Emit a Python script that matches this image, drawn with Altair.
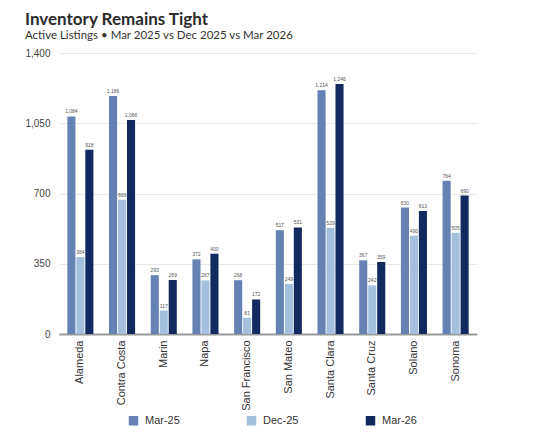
import altair as alt
import pandas as pd

counties = ["Alameda", "Contra Costa", "Marin", "Napa", "San Francisco",
            "San Mateo", "Santa Clara", "Santa Cruz", "Solano", "Sonoma"]
series = ["Mar-25", "Dec-25", "Mar-26"]
mar25 = [1084, 1186, 293, 372, 268, 517, 1214, 367, 630, 764]
dec25 = [384, 669, 117, 267, 81, 249, 529, 242, 490, 505]
mar26 = [918, 1066, 269, 400, 172, 531, 1246, 359, 613, 690]
colors = ["#6682b5", "#a5bfdf", "#132a60"]
y_ticks = [0, 350, 700, 1050, 1400]

rows = []
for i, c in enumerate(counties):
    for s, vals in zip(series, [mar25, dec25, mar26]):
        rows.append({"County": c, "Period": s, "Listings": vals[i]})
df = pd.DataFrame(rows)

FONT = "Liberation Sans"

base = alt.Chart(df).encode(
    x=alt.X("County:N", sort=counties,
            scale=alt.Scale(paddingInner=0.375, paddingOuter=0.2),
            axis=alt.Axis(title=None, labelAngle=270, labelFontSize=11,
                          labelColor="#333333", labelFont=FONT,
                          labelPadding=6, ticks=False, domainColor="#9a9a9a",
                          domainWidth=2, labelBaseline="middle", labelAlign="right")),
    xOffset=alt.XOffset("Period:N", sort=series,
                        scale=alt.Scale(paddingInner=0.1, paddingOuter=0)),
)

bars = base.mark_bar().encode(
    y=alt.Y("Listings:Q", scale=alt.Scale(domain=[0, 1400]),
            axis=alt.Axis(title=None, values=y_ticks,
                          labelExpr="format(datum.value, ',')",
                          labelFontSize=10, labelColor="#444444",
                          labelFont=FONT, labelPadding=9, ticks=False, domain=False,
                          gridColor="#e8e8e8", gridWidth=1)),
    color=alt.Color("Period:N", sort=series,
                    scale=alt.Scale(domain=series, range=colors),
                    legend=alt.Legend(title=None, orient="none", direction="horizontal",
                                      legendX=69, legendY=362, columns=3,
                                      columnPadding=66, symbolType="square",
                                      symbolSize=90, symbolStrokeWidth=0,
                                      labelFontSize=11, labelColor="#333333",
                                      labelFont=FONT, symbolOffset=0, labelOffset=6)),
)

labels = base.mark_text(dy=-5, fontSize=5, color="#555555", font=FONT).encode(
    y=alt.Y("Listings:Q"),
    text=alt.Text("Listings:Q", format=","),
)

chart = (bars + labels).properties(
    width=418, height=281,
    padding={"left": 16, "top": 2, "right": 10, "bottom": 5},
    title=alt.Title("Inventory Remains Tight",
                    subtitle="Active Listings • Mar 2025 vs Dec 2025 vs Mar 2026",
                    anchor="start", frame="bounds", font="Lato",
                    fontSize=17, fontWeight="bold", color="#2b2b2b",
                    subtitleFont="Lato", subtitleFontSize=11.5,
                    subtitleColor="#333333", offset=6, subtitlePadding=1),
).configure_view(stroke=None)

chart.save("out.html", embed_options={"renderer": "svg", "actions": False})
